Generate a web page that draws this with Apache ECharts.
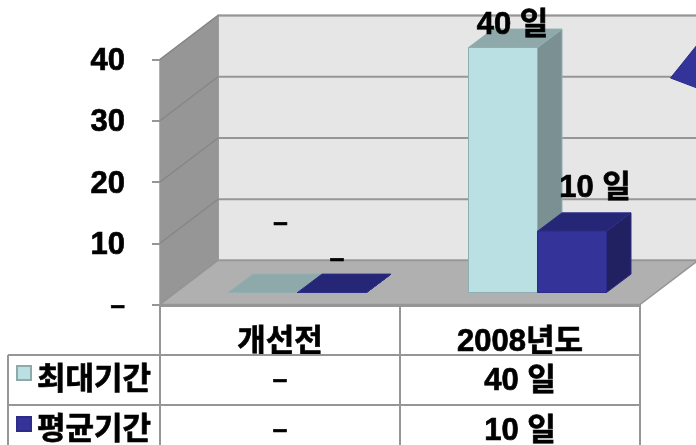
<!DOCTYPE html>
<html><head><meta charset="utf-8">
<style>html,body{margin:0;padding:0;background:#fff;overflow:hidden}#c{width:696px;height:445px}</style>
<script src="https://cdn.jsdelivr.net/npm/echarts@6/dist/echarts.min.js"></script>
</head><body><div id="c"></div>
<script>
const categories = ['개선전', '2008년도'];
const seriesNames = ['최대기간', '평균기간'];
const maxDays = [0, 40];
const avgDays = [0, 10];
const yTicks = [0, 10, 20, 30, 40];
const unit = ' 일';

const FONT = '"Liberation Sans","Noto Sans CJK KR",sans-serif';
const FONT_SIZE = 31, DASH_SIZE = 26, HEAVY = 0.7;
const GRID = {left: 160, right: 56, top: 59.5, bottom: 140.5};
const DEPTH = [58, -44];          // wall depth in px
const BAR_W = 69, BAR_OFF = [17.5, -12], BAR_DEPTH = [24.5, -18.4];
const LINE = '#969696';
const LABEL_SHIFT = [[[17.5, -69], [9.5, -22]], [[5, -33], [23, -43]]];
const COLORS = [
  {face: '#BBE0E3', side: '#7A9092', top: '#8FA8AA', edge: '#8FB0B3'},
  {face: '#333399', side: '#212162', top: '#262676', edge: '#2C2C88'}
];
const fmt = v => v === 0 ? '–' : v + unit;
const textStyle = (text, x, y, v) => ({text, x, y, align: 'center', verticalAlign: 'middle', fill: '#000',
  stroke: '#000', lineWidth: HEAVY,
  font: 'bold ' + (v === 0 ? DASH_SIZE : FONT_SIZE) + 'px ' + FONT});

function renderWalls(params, api) {
  const cs = params.coordSys;
  const L = cs.x, R = cs.x + cs.width;
  const bottom = api.coord([0, 0])[1], topY = api.coord([0, 40])[1];
  const [dx, dy] = DEPTH;
  const poly = (points, fill, z2) => ({type: 'polygon', z2: z2 || 0, shape: {points},
    style: {fill, stroke: LINE, lineWidth: 1.5}});
  const line = (a, b, w, col) => ({type: 'line', z2: 2, shape: {x1: a[0], y1: a[1], x2: b[0], y2: b[1]},
    style: {stroke: col || LINE, lineWidth: w || 2}});
  const kids = [
    poly([[L + dx, topY + dy], [R + dx, topY + dy], [R + dx, bottom + dy], [L + dx, bottom + dy]], '#E6E6E6'),
    poly([[L, topY], [L + dx, topY + dy], [L + dx, bottom + dy], [L, bottom]], '#969696'),
    poly([[L, bottom], [R, bottom], [R + dx, bottom + dy], [L + dx, bottom + dy]], '#B0B0B0', 3)
  ];
  yTicks.forEach(t => {
    const y = api.coord([0, t])[1];
    kids.push(line([L + dx, y + dy], [R + dx, y + dy]));
    kids.push(line([L, y], [L + dx, y + dy], 1.5, '#868686'));
  });
  kids.push(line([L, bottom + 1], [R, bottom + 1], 3));
  return {type: 'group', children: kids};
}

function renderBar(sIdx) {
  return function (params, api) {
    const i = api.value(0), v = api.value(1);
    const c = COLORS[sIdx];
    const cx = api.coord([i, 0])[0] + BAR_OFF[0];
    const x0 = cx + (sIdx === 0 ? -BAR_W : 0), x1 = x0 + BAR_W;
    const yb = api.coord([i, 0])[1] + BAR_OFF[1], yt = api.coord([i, v])[1] + BAR_OFF[1];
    const [dx, dy] = BAR_DEPTH;
    const s = LABEL_SHIFT[sIdx][i];
    const mk = (points, fill) => ({type: 'polygon', shape: {points},
      style: {fill, stroke: c.edge, lineWidth: 1}});
    return {type: 'group', children: [
      mk([[x1, yb], [x1 + dx, yb + dy], [x1 + dx, yt + dy], [x1, yt]], c.side),
      mk([[x0, yt], [x1, yt], [x1 + dx, yt + dy], [x0 + dx, yt + dy]], c.top),
      mk([[x0, yb], [x1, yb], [x1, yt], [x0, yt]], c.face),
      {type: 'text', z2: 20, style: textStyle(fmt(v), (x0 + x1) / 2 + s[0], yt + s[1], v)}
    ]};
  };
}

const tableLines = [
  [160, 304, 160, 445], [400, 304, 400, 445], [640, 304, 640, 445], [8, 355, 8, 445],
  [8, 355, 640, 355], [8, 405, 640, 405]
];
const rowY = [381, 431];
const keyY = [366, 417];
const colX = [280, 520];
const rows = [maxDays, avgDays];
const tx = (text, x, y, v) => ({type: 'text', z: 30, style: textStyle(text, x, y, v)});
const graphics = [];
tableLines.forEach(l => graphics.push({type: 'line', z: 10,
  shape: {x1: l[0], y1: l[1], x2: l[2], y2: l[3]}, style: {stroke: LINE, lineWidth: 2}}));
rows.forEach((r, ri) => {
  graphics.push({type: 'rect', z: 30, shape: {x: 17, y: keyY[ri], width: 14, height: 14},
    style: {fill: COLORS[ri].face, stroke: ri ? '#2C2C88' : '#8FA8AA', lineWidth: 2}});
  graphics.push(tx(seriesNames[ri], 94, rowY[ri] - 1));
  r.forEach((v, ci) => graphics.push(tx(fmt(v), colX[ci], rowY[ri], v)));
});
// clipped decorative shape at the right edge
graphics.push({type: 'polygon', z: 9, shape: {points: [[670.5, 78], [697, 45], [697, 88]]},
  style: {fill: '#333399', stroke: '#2C2C88', lineWidth: 1}});

const axisText = {color: '#000', fontFamily: FONT, fontWeight: 'bold', fontSize: FONT_SIZE,
  textBorderColor: '#000', textBorderWidth: HEAVY};
const chart = echarts.init(document.getElementById('c'), null, {renderer: 'canvas'});
chart.setOption({
  animation: false,
  backgroundColor: '#fff',
  grid: GRID,
  xAxis: {type: 'category', data: categories, axisLine: {show: false}, axisTick: {show: false},
    axisLabel: Object.assign({}, axisText, {margin: 22})},
  yAxis: {type: 'value', min: 0, max: 40, interval: 10, splitLine: {show: false},
    axisLine: {show: false},
    axisTick: {show: true, length: 8, lineStyle: {color: LINE, width: 2}},
    axisLabel: Object.assign({}, axisText, {margin: 35, lineHeight: 34, padding: [4, 0, 0, 0],
      rich: {d: {fontSize: DASH_SIZE, fontWeight: 'bold', fontFamily: FONT, textBorderColor: '#000', textBorderWidth: HEAVY}},
      formatter: v => v === 0 ? '{d|–}' : String(v)})},
  series: [
    {type: 'custom', name: 'walls', z: 1, renderItem: renderWalls, data: [[0, 0]], silent: true},
    {type: 'custom', name: seriesNames[0], z: 2, renderItem: renderBar(0), data: maxDays.map((v, i) => [i, v])},
    {type: 'custom', name: seriesNames[1], z: 3, renderItem: renderBar(1), data: avgDays.map((v, i) => [i, v])}
  ],
  graphic: graphics
});
</script></body></html>
